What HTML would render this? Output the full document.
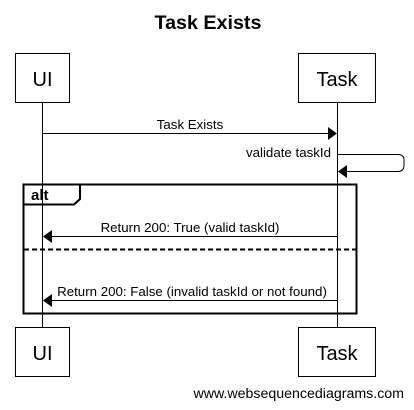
<!DOCTYPE html>
<html><head><meta charset="utf-8"><style>
html,body{margin:0;padding:0;background:#fff;width:414px;height:410px;overflow:hidden}
text{font-family:"Liberation Sans",Arial,sans-serif;fill:#000}
</style></head><body>
<svg width="414" height="410" viewBox="0 0 414 410" xmlns="http://www.w3.org/2000/svg">
<text x="208" y="29" font-size="19.7" font-weight="bold" text-anchor="middle">Task Exists</text>
<line x1="42.5" y1="102" x2="42.5" y2="327" stroke="#000" stroke-width="1"/>
<line x1="337.5" y1="102" x2="337.5" y2="327" stroke="#000" stroke-width="1"/>
<rect x="15.5" y="53.5" width="54" height="49" fill="#fff" stroke="#000"/>
<text x="42.5" y="86" font-size="20" text-anchor="middle">UI</text>
<rect x="298.5" y="53.5" width="77" height="49" fill="#fff" stroke="#000"/>
<text x="337" y="86" font-size="20" text-anchor="middle">Task</text>
<text x="190" y="129" font-size="13.3" text-anchor="middle">Task Exists</text>
<line x1="43" y1="133.5" x2="328" y2="133.5" stroke="#000"/>
<polygon points="337,133.5 328,127 328,140" fill="#000"/>
<text x="331" y="157" font-size="13.3" text-anchor="end">validate taskId</text>
<path d="M338 154.5 H398 Q404 154.5 404 160 V165 Q404 171.5 398 171.5 H347" fill="none" stroke="#000"/>
<polygon points="338,171.5 347,165 347,178" fill="#000"/>
<rect x="23.5" y="184.5" width="333" height="129" fill="none" stroke="#000" stroke-width="2"/>
<path d="M23.5 204.5 H74 L80 199 V184.5" fill="none" stroke="#000" stroke-width="2"/>
<text x="31" y="200" font-size="15" font-weight="bold">alt</text>
<text x="190" y="232" font-size="13.3" text-anchor="middle">Return 200: True (valid taskId)</text>
<line x1="52" y1="236.5" x2="337" y2="236.5" stroke="#000"/>
<polygon points="43,236.5 52,230 52,243" fill="#000"/>
<line x1="24" y1="249.5" x2="356" y2="249.5" stroke="#000" stroke-width="2" stroke-dasharray="5,3"/>
<text x="192" y="296" font-size="13.3" text-anchor="middle">Return 200: False (invalid taskId or not found)</text>
<line x1="52" y1="300.5" x2="337" y2="300.5" stroke="#000"/>
<polygon points="43,300.5 52,294 52,307" fill="#000"/>
<rect x="15.5" y="327.5" width="54" height="49" fill="#fff" stroke="#000"/>
<text x="42.5" y="360" font-size="20" text-anchor="middle">UI</text>
<rect x="298.5" y="327.5" width="77" height="49" fill="#fff" stroke="#000"/>
<text x="337" y="360" font-size="20" text-anchor="middle">Task</text>
<text x="404" y="398" font-size="14.2" text-anchor="end">www.websequencediagrams.com</text>
</svg>
</body></html>
